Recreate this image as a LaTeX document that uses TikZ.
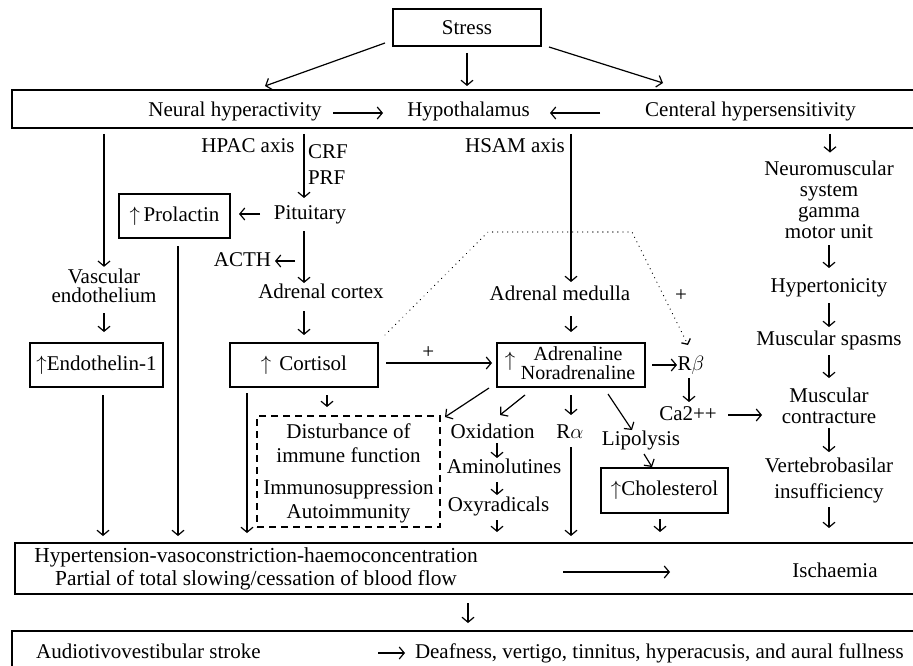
\documentclass[tikz,border=0pt]{standalone}
\usepackage{fontspec}
\setmainfont{Liberation Serif}
\usetikzlibrary{arrows.meta,calc}
\begin{document}
\begin{tikzpicture}[x=1pt,y=-1pt,
  font=\fontsize{21}{24}\selectfont,
  every node/.append style={inner sep=0pt, outer sep=0pt},
  lbl/.style={text height=14pt, text depth=4pt},
  ml/.style={align=center},
  box/.style={draw, line width=1.2pt},
  arr/.style={line width=1.2pt, -{Straight Barb[length=5pt,width=12pt]}},
  dotline/.style={line width=1.3pt, line cap=round, dash pattern=on 0.01pt off 5pt, -{Straight Barb[length=4pt,width=10pt]}}]
\useasboundingbox (0,0) rectangle (913,666);
% ---------- nodes ----------
\node[box, minimum width=148pt, minimum height=37pt] (stress) at (467,27.5) {Stress};
\node[box, minimum width=908pt, minimum height=38pt] (top) at (466,109) {};
\node[lbl] (neural) at (235,112) {Neural hyperactivity};
\node[lbl] (hypo) at (468.5,112) {Hypothalamus};
\node[lbl] (central) at (750.5,112) {Centeral hypersensitivity};
\node[lbl] (hpac) at (248,148) {HPAC axis};
\node[lbl, anchor=west] (crf) at (308,153) {CRF};
\node[lbl, anchor=west] (prf) at (308,180) {PRF};
\node[lbl] (pit) at (310,214) {Pituitary};
\node[box, minimum width=111pt, minimum height=44pt] (prol) at (174.5,216) {$\uparrow$\,Prolactin};
\node[lbl] (acth) at (242.5,261) {ACTH};
\node[lbl] (adcort) at (321,293) {Adrenal cortex};
\node[ml, font=\fontsize{21}{19}\selectfont] (vasc) at (104,285.4) {Vascular\\endothelium};
\node[box, minimum width=133pt, minimum height=44pt] (endo) at (96.5,365) {$\uparrow$Endothelin-1};
\node[box, minimum width=148pt, minimum height=44pt] (cort) at (304,365) {$\uparrow$\hspace{8pt}Cortisol};
\node[lbl] (hsam) at (515,148) {HSAM axis};
\node[lbl] (admed) at (560,295) {Adrenal medulla};
\node[box, minimum width=148pt, minimum height=44pt] (adren) at (571,365) {};
\node (adrup) at (510,361) {$\uparrow$};
\node[ml, font=\fontsize{20}{19}\selectfont] (adrtxt) at (578,362.7) {Adrenaline\\Noradrenaline};
\node[lbl] (rb) at (691,365) {R$\beta$};
\node[lbl] (ca) at (688,415) {Ca2++};
\node[ml, font=\fontsize{21}{21}\selectfont] (neuro) at (829,199.4) {Neuromuscular\\system\\gamma\\motor unit};
\node[lbl] (hyperton) at (829,287) {Hypertonicity};
\node[lbl] (spasms) at (829,340) {Muscular spasms};
\node[ml, font=\fontsize{21}{21}\selectfont] (contract) at (829,405.4) {Muscular\\contracture};
\node[ml, font=\fontsize{21}{26}\selectfont] (vert) at (829,480.2) {Vertebrobasilar\\insufficiency};
\node[draw, line width=1.2pt, dash pattern=on 7pt off 5pt, minimum width=183pt, minimum height=111pt] (dbox) at (348.5,471.5) {};
\node[ml, font=\fontsize{21}{24}\selectfont] (dtxt) at (348.5,473.2) {Disturbance of\\immune function\\[8pt]Immunosuppression\\Autoimmunity};
\node[lbl] (oxid) at (492.5,433) {Oxidation};
\node[lbl] (amino) at (504,468) {Aminolutines};
\node[lbl] (oxyr) at (498.5,506) {Oxyradicals};
\node[lbl] (ralpha) at (570,433) {R$\alpha$};
\node[lbl] (lipo) at (641,440) {Lipolysis};
\node[box, minimum width=127pt, minimum height=45pt] (chol) at (664.5,490.5) {$\uparrow$Cholesterol};
\node[box, minimum width=905pt, minimum height=51pt] (hyp) at (467.5,568.5) {};
\node[ml, font=\fontsize{21.4}{23}\selectfont] (hyptxt) at (256,568.6) {Hypertension-vasoconstriction-haemoconcentration\\Partial of total slowing/cessation of blood flow};
\node[lbl] (isch) at (835,572) {Ischaemia};
\node[box, minimum width=908pt, minimum height=69pt] (bot) at (466,665.5) {};
\node[lbl] (audio) at (148.5,653) {Audiotivovestibular stroke};
\node[lbl, anchor=west] (deaf) at (415,653) {Deafness, vertigo, tinnitus, hyperacusis, and aural fullness};
\node (plus2) at (681,296) {+};
% ---------- connectors ----------
\draw[arr] ($(stress.south west)+(-8,-3)$) -- ($(top.north)+(-201,-4)$);
\draw[arr] ($(stress.south)+(0,7)$) -- ($(top.north)+(1,-4)$);
\draw[arr] ($(stress.south east)+(8,1)$) -- ($(top.north)+(197,-7)$);
\draw[arr] ($(hypo.center)+(-135.5,1)$) -- ($(hypo.center)+(-85.5,1)$);
\draw[arr] ($(hypo.center)+(131.5,1)$) -- ($(hypo.center)+(81.5,1)$);
% left column
\draw[arr] ($(top.south -| vasc)+(0,6)$) -- ($(vasc.north)+(0,-1.7)$);
\draw[arr] ($(vasc.south)+(0,11)$) -- ($(vasc.south |- endo.north)+(0,-11)$);
\draw[arr] ($(endo.south)+(6.5,8)$) -- ($(endo.south |- hyp.north)+(6.5,-7)$);
% HPAC
\draw[arr] ($(top.south -| pit)+(-6,6)$) -- ($(pit.north)+(-6,-7)$);
\draw[arr] ($(prol.east)+(30,-2)$) -- ($(prol.east)+(9,-2)$);
\draw[arr] ($(prol.south)+(3.5,8)$) -- ($(prol.south |- hyp.north)+(3.5,-7)$);
\draw[arr] ($(pit.south)+(-6,8)$) -- ($(adcort.north -| pit)+(-6,-1)$);
\draw[arr] ($(pit.south)+(-15,38)$) -- ($(pit.south)+(-35,38)$);
\draw[arr] ($(adcort.south -| cort.north)+(0,9)$) -- ($(cort.north)+(0,-8)$);
\draw[arr] ($(cort.east)+(8,-2)$) -- node[pos=0.4, yshift=10pt]{+} ($(adren.west)+(-5,-2)$);
\draw[arr] ($(cort.south west)+(17,6)$) -- ($(cort.south west |- hyp.north)+(17,-10)$);
\draw[arr] ($(cort.south)+(23,8)$) -- ($(dbox.north)+(-21.5,-9)$);
\draw[dotline] ($(cort.north east)+(7,-8)$) -- (488,232) -- (632,232) -- ($(rb.north)+(-3,-11)$);
% HSAM
\draw[arr] ($(top.south -| adren)+(0,6)$) -- ($(admed.north -| adren)+(0,-4)$);
\draw[arr] ($(admed.south -| adren)+(0,12)$) -- ($(adren.north)+(0,-11)$);
\draw[arr] ($(adren.east)+(7,0)$) -- ($(adren.east)+(32,0)$);
\draw[arr] ($(rb.south -| ca.north)+(1,4)$) -- ($(ca.north)+(1,-4)$);
\draw[arr] ($(ca.center)+(40,0)$) -- ($(ca.center)+(74,0)$);
\draw[arr] ($(adren.south)+(-46,8)$) -- ($(oxid.north)+(7.5,-9)$);
\draw[arr] ($(adren.south)+(0,8)$) -- ($(ralpha.north -| adren.south)+(0,-9)$);
\draw[arr] ($(adren.south)+(37,7)$) -- ($(lipo.north)+(-9,-1)$);
\draw[arr] ($(adren.south west)+(-8,1)$) -- ($(dbox.north east)+(5,1)$);
\draw[arr] ($(ralpha.south -| adren.south)+(0,5)$) -- ($(adren.south |- hyp.north)+(0,-7)$);
\draw[arr] ($(oxid.south)+(4.5,1)$) -- ($(amino.north -| oxid.south)+(4.5,-1)$);
\draw[arr] ($(amino.south -| oxid.south)+(4.5,5)$) -- ($(oxyr.north -| oxid.south)+(4.5,-2)$);
\draw[arr] ($(oxyr.south -| oxid.south)+(4.5,5)$) -- ($(oxid.south |- hyp.north)+(4.5,-11)$);
\draw[arr] ($(lipo.south)+(3,5)$) -- ($(chol.north)+(-12.5,-1)$);
\draw[arr] ($(chol.south)+(-4.5,6)$) -- ($(chol.south)+(-4.5,19)$);
% right column
\draw[arr] ($(top.south -| neuro)+(1,6)$) -- ($(neuro.north)+(1,-8)$);
\draw[arr, shorten <=7pt, shorten >=10pt] (neuro) -- (hyperton);
\draw[arr, shorten <=7pt, shorten >=4pt] (hyperton) -- (spasms);
\draw[arr, shorten <=6pt, shorten >=9.5pt] (spasms) -- (contract);
\draw[arr, shorten <=5pt, shorten >=5.5pt] (contract) -- (vert);
\draw[arr] ($(vert.south)+(0,4.5)$) -- ($(vert.south |- hyp.north)+(0,-15)$);
% bottom
\draw[arr] ($(isch.center)+(-272,0)$) -- ($(isch.center)+(-165,0)$);
\draw[arr] ($(hyp.south)+(0.5,9)$) -- ($(bot.north)+(2,-8)$);
\draw[arr] ($(deaf.west)+(-37,0)$) -- ($(deaf.west)+(-10,0)$);
\end{tikzpicture}
\end{document}
